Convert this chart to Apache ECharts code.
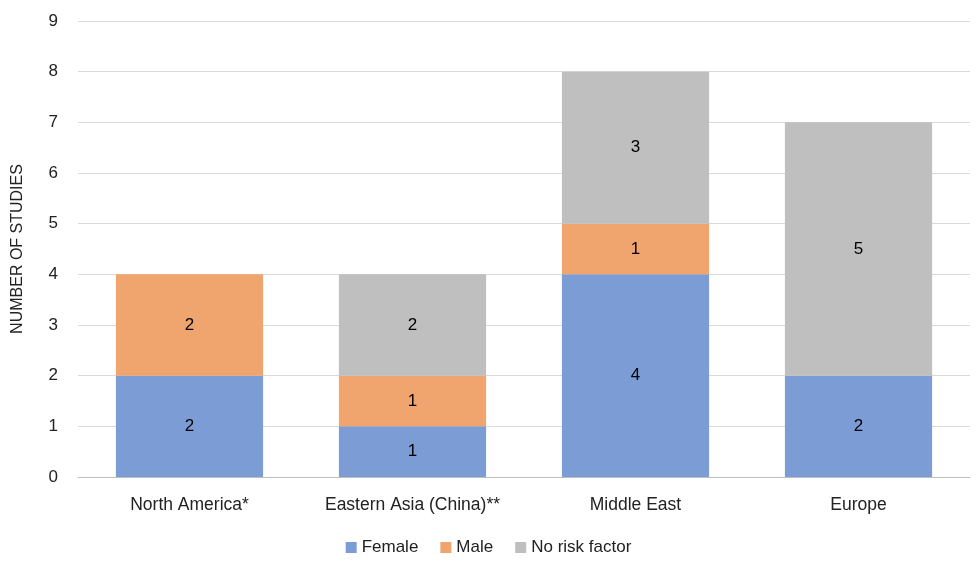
<!DOCTYPE html>
<html><head><meta charset="utf-8">
<script src="https://cdn.jsdelivr.net/npm/echarts@6/dist/echarts.min.js"></script>
<style>html,body{margin:0;padding:0;background:#fff}#c{width:977px;height:562px}</style>
</head><body><div id="c"></div>
<script>
const categories = ["North America*", "Eastern Asia (China)**", "Middle East", "Europe"];
const female = [2, 1, 4, 2];
const male = [2, 1, 1, null];
const noRisk = [null, 2, 3, 5];
const yTicks = [0, 1, 2, 3, 4, 5, 6, 7, 8, 9];

const lbl = {show: true, position: 'inside', color: '#000', fontSize: 17, fontFamily: "'Liberation Sans', sans-serif"};
function mk(name, data, color) {
  return {name, type: 'bar', stack: 's', data, barCategoryGap: '34%',
    itemStyle: {color}, label: lbl, emphasis: {disabled: true}};
}
const chart = echarts.init(document.getElementById('c'));
chart.setOption({
  animation: false,
  textStyle: {fontFamily: "'Liberation Sans', sans-serif"},
  grid: {left: 78, right: 7, top: 21, bottom: 85},
  legend: {bottom: 1, left: 'center', itemWidth: 11, itemHeight: 11, itemGap: 22,
    icon: 'rect', textStyle: {fontSize: 17, color: '#222'}, data: ['Female', 'Male', 'No risk factor']},
  xAxis: {type: 'category', data: categories,
    axisLine: {lineStyle: {color: '#bfbfbf', width: 1}}, axisTick: {show: false},
    axisLabel: {color: '#222', fontSize: 17.5, margin: 19, interval: 0, hideOverlap: false}},
  yAxis: {type: 'value', min: yTicks[0], max: yTicks[yTicks.length - 1], interval: 1,
    name: 'NUMBER OF STUDIES', nameLocation: 'middle', nameGap: 52, nameRotate: 90,
    nameTextStyle: {fontSize: 16, color: '#222'},
    axisLine: {show: false}, axisTick: {show: false},
    axisLabel: {color: '#222', fontSize: 17, margin: 20},
    splitLine: {lineStyle: {color: '#d9d9d9', width: 1}}},
  series: [mk('Female', female, '#7b9cd5'), mk('Male', male, '#f0a46e'), mk('No risk factor', noRisk, '#bfbfbf')]
});
</script></body></html>
